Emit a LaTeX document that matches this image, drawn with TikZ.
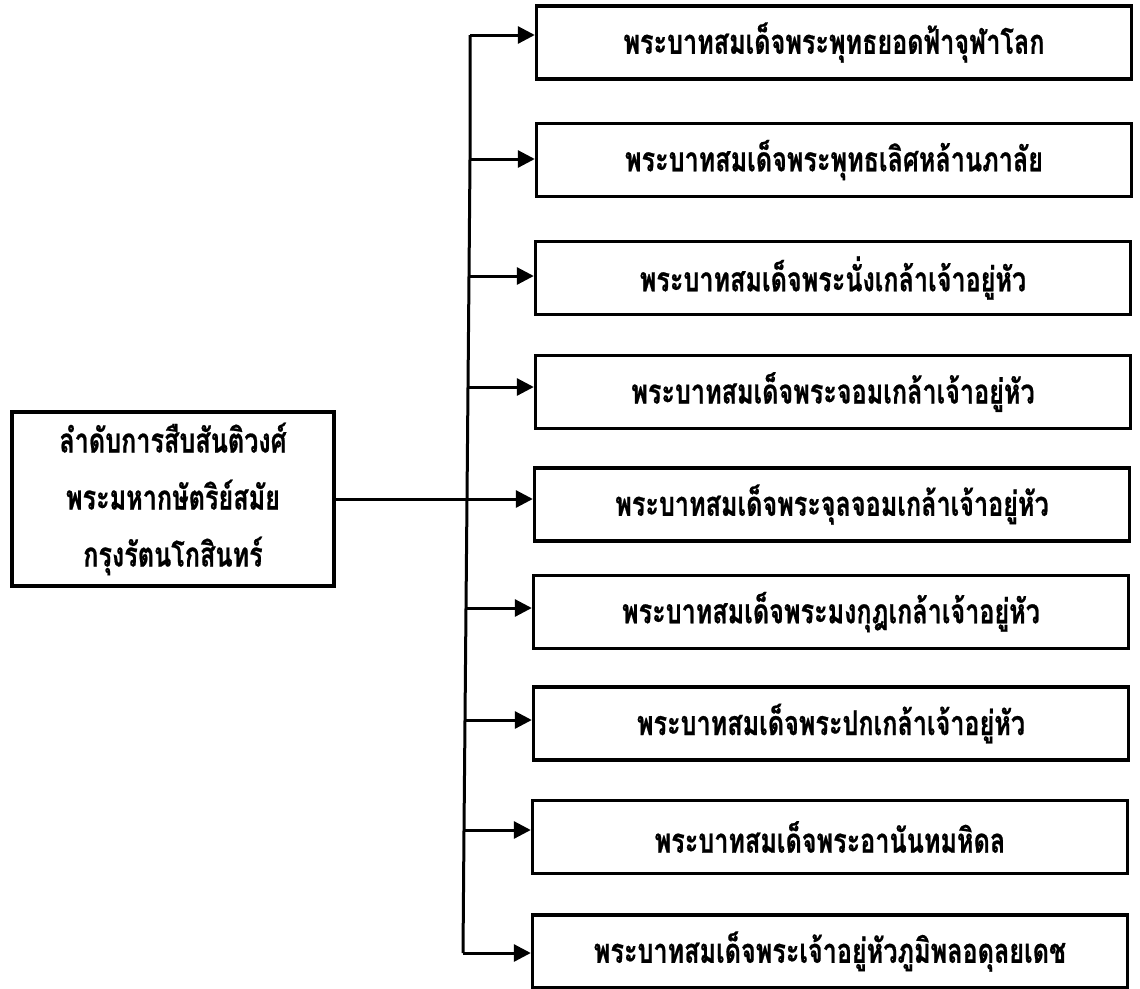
\documentclass[tikz,border=0pt]{standalone}
\usepackage{fontspec}
\newfontfamily\thaifont[Script=Thai,FakeStretch=0.74,BoldFeatures={FakeBold=0.6}]{Loma}
\usetikzlibrary{arrows.meta}
\begin{document}
\begin{tikzpicture}[x=1pt,y=-1pt,
  thaitext/.style={font=\thaifont\bfseries\fontsize{34}{57}\selectfont},
  rbox/.style={draw, line width=3.4pt, minimum width=595pt, minimum height=73pt, inner sep=0pt, thaitext},
  lbox/.style={draw, line width=3.4pt, minimum width=322pt, minimum height=174pt, inner sep=0pt, align=center, thaitext},
  trunk/.style={line width=3pt},
  conn/.style={line width=3pt, -{Triangle[length=17pt,width=17pt]}}]
\useasboundingbox (0,0) rectangle (1140,988);

\node[lbox] (L) at (173,499) {ลำดับการสืบสันติวงศ์\\พระมหากษัตริย์สมัย\\กรุงรัตนโกสินทร์};

\node[rbox] (b1) at (834,42.5) {พระบาทสมเด็จพระพุทธยอดฟ้าจุฬาโลก};
\node[rbox] (b2) at (834,160) {พระบาทสมเด็จพระพุทธเลิศหล้านภาลัย};
\node[rbox] (b3) at (833,278) {พระบาทสมเด็จพระนั่งเกล้าเจ้าอยู่หัว};
\node[rbox] (b4) at (833,392) {พระบาทสมเด็จพระจอมเกล้าเจ้าอยู่หัว};
\node[rbox] (b5) at (832,504.5) {พระบาทสมเด็จพระจุลจอมเกล้าเจ้าอยู่หัว};
\node[rbox] (b6) at (831,612) {พระบาทสมเด็จพระมงกุฎเกล้าเจ้าอยู่หัว};
\node[rbox] (b7) at (831,723.5) {พระบาทสมเด็จพระปกเกล้าเจ้าอยู่หัว};
\node[rbox] (b8) at (830,837) {พระบาทสมเด็จพระอานันทมหิดล};
\node[rbox] (b9) at (830,951.5) {พระบาทสมเด็จพระเจ้าอยู่หัวภูมิพลอดุลยเดช};

\coordinate (j1) at (470,35);
\coordinate (j2) at (470,159);
\coordinate (j3) at (469,276);
\coordinate (j4) at (468,387);
\coordinate (j5) at (467,499);
\coordinate (j6) at (466,608);
\coordinate (j7) at (465,720);
\coordinate (j8) at (464,830);
\coordinate (j9) at (463,953);

\draw[trunk] (j1) -- (j2) -- (j3) -- (j4) -- (j5) -- (j6) -- (j7) -- (j8) -- (j9);
\draw[conn] (j1) -- (j1 -| b1.west);
\draw[conn] (j2) -- (j2 -| b2.west);
\draw[conn] (j3) -- (j3 -| b3.west);
\draw[conn] (j4) -- (j4 -| b4.west);
\draw[conn] (L.east) -- (L.east -| b5.west);
\draw[conn] (j6) -- (j6 -| b6.west);
\draw[conn] (j7) -- (j7 -| b7.west);
\draw[conn] (j8) -- (j8 -| b8.west);
\draw[conn] (j9) -- (j9 -| b9.west);
\end{tikzpicture}
\end{document}
